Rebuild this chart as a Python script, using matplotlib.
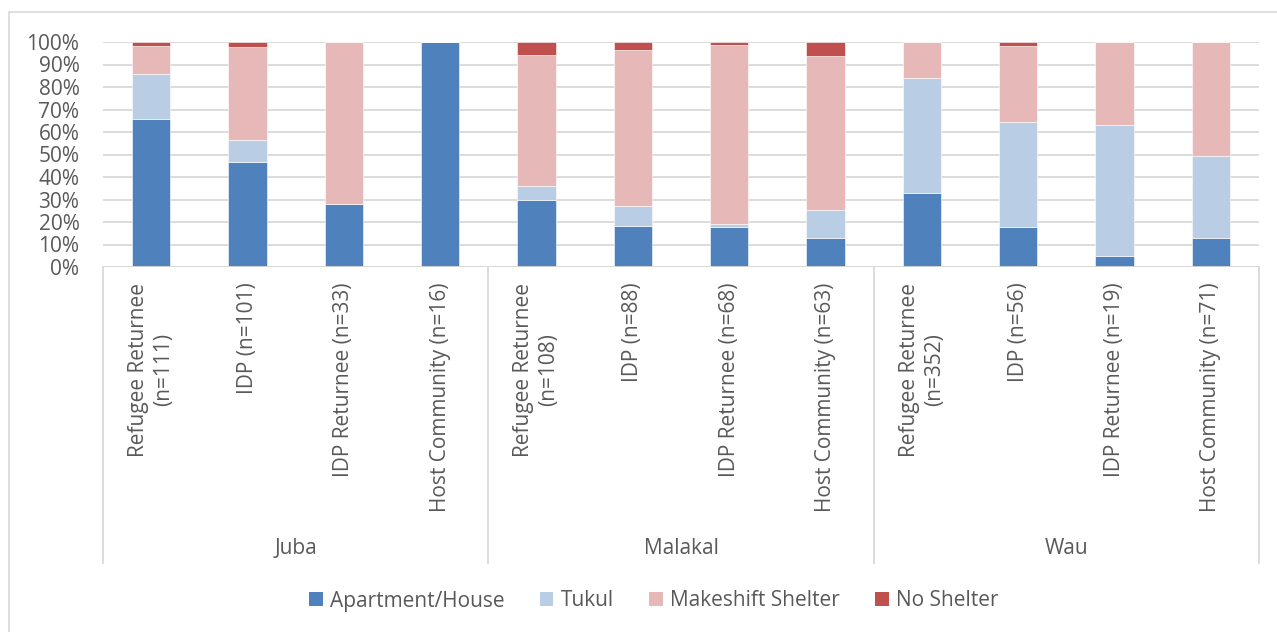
import matplotlib.pyplot as plt
from matplotlib.patches import Patch, Rectangle
from matplotlib.lines import Line2D

plt.rcParams['font.family'] = ['Open Sans', 'DejaVu Sans']

# data (percent of households per shelter type)
groups = ["Juba", "Malakal", "Wau"]
categories = [
    "Refugee Returnee\n(n=111)", "IDP (n=101)", "IDP Returnee (n=33)", "Host Community (n=16)",
    "Refugee Returnee\n(n=108)", "IDP (n=88)", "IDP Returnee (n=68)", "Host Community (n=63)",
    "Refugee Returnee\n(n=352)", "IDP (n=56)", "IDP Returnee (n=19)", "Host Community (n=71)",
]
apartment = [65.8, 46.5, 27.9, 100.0, 29.6, 18.2, 17.6, 12.7, 32.7, 17.9, 5.0, 12.7]
tukul = [19.8, 9.9, 0.0, 0.0, 6.5, 9.1, 1.5, 12.7, 51.4, 46.4, 57.9, 36.6]
makeshift = [12.6, 41.6, 72.1, 0.0, 58.3, 69.3, 79.4, 68.3, 15.9, 33.9, 37.1, 50.7]
no_shelter = [1.8, 2.0, 0.0, 0.0, 5.6, 3.4, 1.5, 6.3, 0.0, 1.8, 0.0, 0.0]

series = [
    ("Apartment/House", apartment, "#4F81BD"),
    ("Tukul", tukul, "#B9CDE5"),
    ("Makeshift Shelter", makeshift, "#E6B9B8"),
    ("No Shelter", no_shelter, "#C0504D"),
]

txt = "#595959"
grid = "#D9D9D9"
fs = 15

fig = plt.figure(figsize=(12.77, 6.32), dpi=100)
ax = fig.add_axes([103 / 1277, 1 - 267 / 632, (1259 - 103) / 1277, 225 / 632])

x = list(range(len(categories)))
bottom = [0.0] * len(categories)
for name, vals, col in series:
    ax.bar(x, vals, width=0.4, bottom=bottom, color=col, edgecolor="white", linewidth=0.4, zorder=3)
    bottom = [b + v for b, v in zip(bottom, vals)]

ax.set_xlim(-0.5, len(categories) - 0.5)
ax.set_ylim(0, 100)
ax.set_yticks(range(0, 101, 10))
ax.set_yticklabels([f"{t}%" for t in range(0, 101, 10)], color=txt, fontsize=fs)
ax.tick_params(axis="y", length=0, pad=17)
ax.set_xticks([])
ax.yaxis.grid(True, color=grid, linewidth=1.3, zorder=0)
for s in ax.spines.values():
    s.set_visible(False)
ax.axhline(0, color=grid, linewidth=1.3, zorder=4)

tr = ax.get_xaxis_transform()
for i, lab in enumerate(categories):
    ax.text(i, -0.07, lab, rotation=90, ha="center", va="top", multialignment="center",
            fontsize=fs, color=txt, transform=tr, clip_on=False, linespacing=1.25)

# group separators and labels
per = len(categories) // len(groups)
for g in range(len(groups) + 1):
    ax.add_line(Line2D([g * per - 0.5] * 2, [0, -1.316], transform=tr, color=grid,
                       linewidth=1.3, clip_on=False))
for g, name in enumerate(groups):
    ax.text(g * per + (per - 1) / 2, -1.25, name, ha="center", va="center",
            fontsize=fs, color=txt, transform=tr, clip_on=False)

handles = [Patch(facecolor=c, label=n) for n, _, c in series]
fig.legend(handles=handles, loc="center", bbox_to_anchor=(0.512, 1 - 601 / 632), ncol=4,
           frameon=False, fontsize=fs, handlelength=0.65, handleheight=0.65,
           handletextpad=0.35, columnspacing=1.7, labelcolor=txt)

fig.patches.append(Rectangle((9 / 1277, -0.05), 1.1, 1 - 12 / 632 + 0.05, transform=fig.transFigure,
                             fill=False, edgecolor=grid, linewidth=1.2))

fig.savefig("out.png", dpi=100)
